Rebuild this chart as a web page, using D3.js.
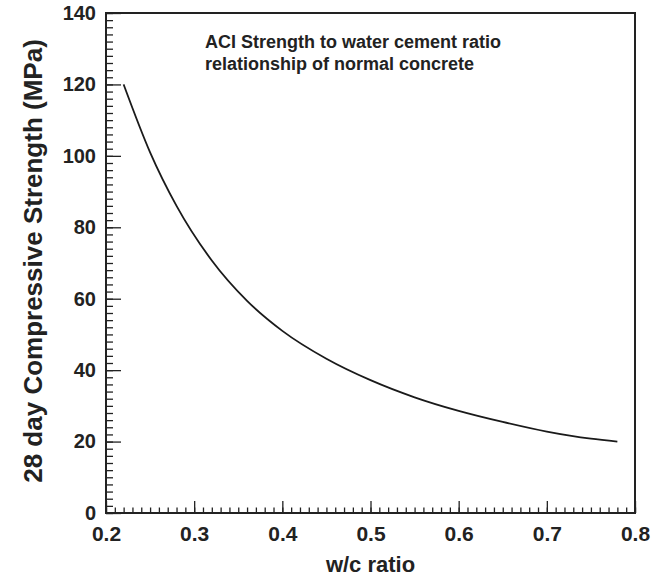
<!DOCTYPE html>
<meta charset="utf-8">
<style>
    body { margin: 0; background: #fff; }
    svg { font-family: 'Liberation Sans', Arial, sans-serif; }
    .tick text { font-size: 20px; font-weight: bold; fill: #222; }
    .tick line { stroke: #222; stroke-width: 1.3; }
    .title { font-size: 22px; font-weight: bold; fill: #222; }
    .note { font-size: 18px; font-weight: bold; fill: #222; }
</style>
<svg width="654" height="579"></svg>
<script src="https://d3js.org/d3.v7.min.js"></script>
<script>
    // w/c ratio vs 28 day strength
    var wc = [0.22, 0.25, 0.28, 0.32, 0.36, 0.40, 0.45, 0.50, 0.55, 0.60, 0.65, 0.70, 0.75, 0.78];
    var strength = [120, 101, 86, 70.7, 59.4, 51, 43.2, 37.2, 32.4, 28.6, 25.5, 22.8, 20.8, 20];
    var xTicks = [0.2, 0.3, 0.4, 0.5, 0.6, 0.7, 0.8];
    var yTicks = [0, 20, 40, 60, 80, 100, 120, 140];
    var noteLines = ["ACI Strength to water cement ratio", "relationship of normal concrete"];

    var svg = d3.select("svg");
    var margin = {top: 13, right: 19, bottom: 66, left: 106};
    var width = 654 - margin.left - margin.right,
        height = 579 - margin.top - margin.bottom;

    var x = d3.scaleLinear().domain([0.2, 0.8]).range([0, width]);
    var y = d3.scaleLinear().domain([0, 140]).range([height, 0]);

    var g = svg.append("g")
        .attr("transform", "translate(" + margin.left + "," + margin.top + ")");

    // minor ticks
    g.append("g")
        .attr("transform", "translate(0," + height + ")")
        .call(d3.axisBottom(x).tickValues(x.ticks(60)).tickSize(-5.5).tickFormat(""))
        .call(a => a.select(".domain").remove());
    g.append("g")
        .call(d3.axisLeft(y).tickValues(y.ticks(70)).tickSize(-7).tickFormat(""))
        .call(a => a.select(".domain").remove());

    // major ticks + labels
    g.append("g")
        .attr("transform", "translate(0," + height + ")")
        .call(d3.axisBottom(x).tickValues(xTicks).tickSize(-12).tickPadding(13.5).tickFormat(d3.format(".1f")))
        .call(a => a.select(".domain").remove())
        .call(a => a.selectAll("text").style("font-size", "21px"));
    g.append("g")
        .call(d3.axisLeft(y).tickValues(yTicks).tickSize(-15).tickPadding(10))
        .call(a => a.select(".domain").remove());

    // frame
    g.append("rect")
        .attr("width", width)
        .attr("height", height)
        .attr("fill", "none")
        .attr("stroke", "#222")
        .attr("stroke-width", 2);

    var line = d3.line()
        .x((d, i) => x(wc[i]))
        .y(d => y(d))
        .curve(d3.curveMonotoneX);

    g.append("path")
        .datum(strength)
        .attr("fill", "none")
        .attr("stroke", "#1a1a1a")
        .attr("stroke-width", 1.8)
        .attr("d", line);

    g.selectAll(".note")
        .data(noteLines)
        .enter().append("text")
        .attr("class", "note")
        .attr("x", 99)
        .attr("y", (d, i) => 35 + i * 22)
        .text(d => d);

    svg.append("text")
        .attr("class", "title")
        .attr("x", margin.left + width / 2)
        .attr("y", 572)
        .attr("text-anchor", "middle")
        .text("w/c ratio");

    svg.append("text")
        .attr("class", "title")
        .attr("transform", "translate(42," + (margin.top + height / 2 - 2) + ") rotate(-90)")
        .attr("text-anchor", "middle")
        .style("font-size", "26px")
        .text("28 day Compressive Strength (MPa)");
</script>
